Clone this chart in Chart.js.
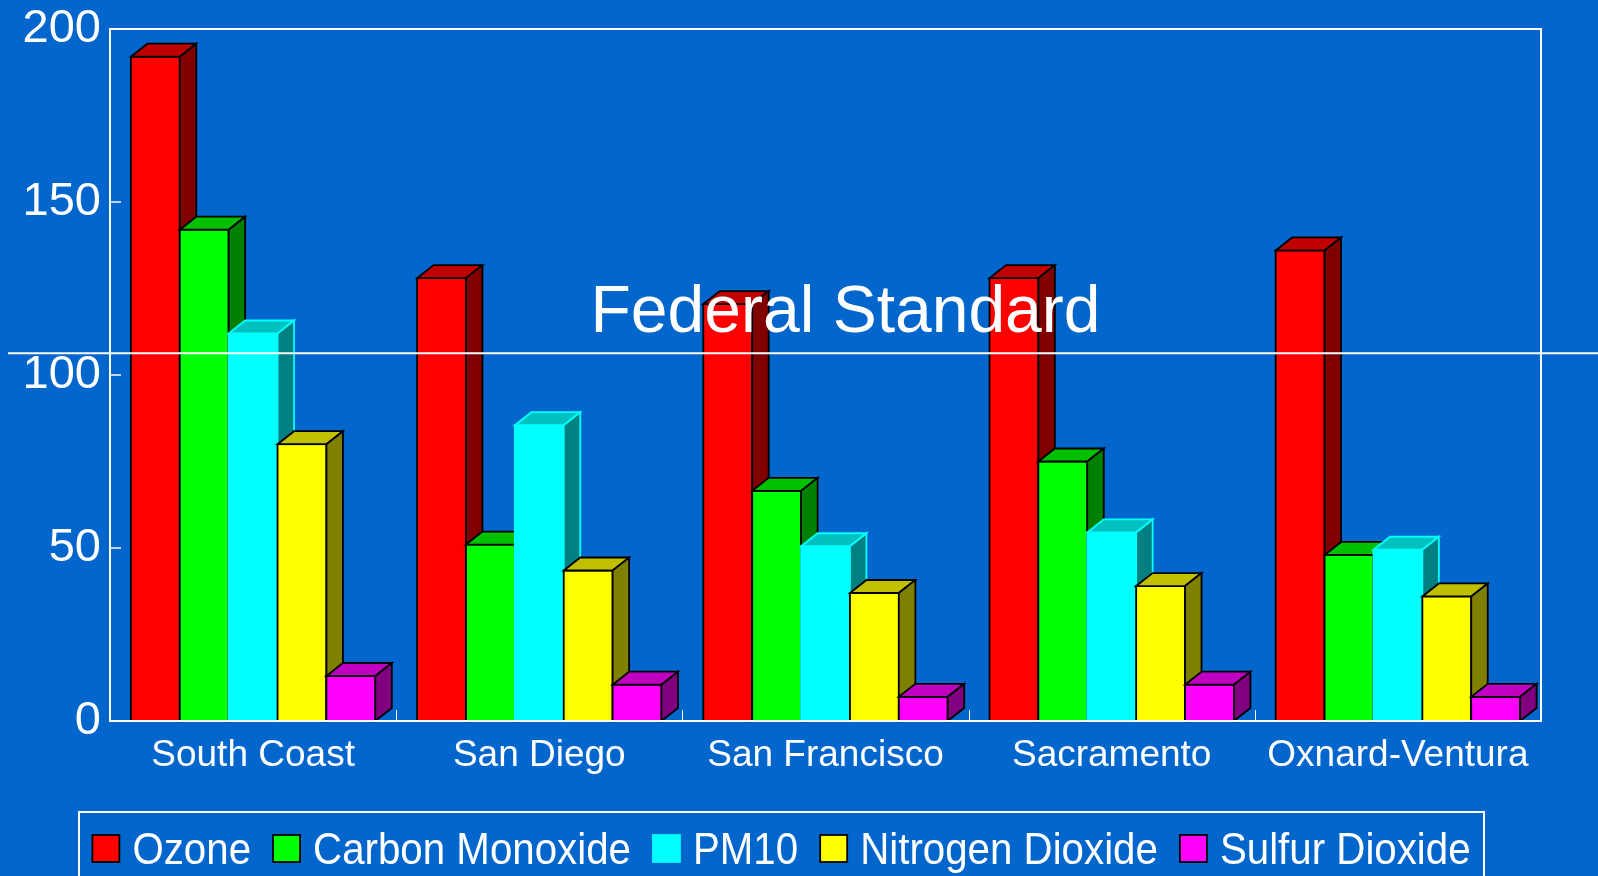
<!DOCTYPE html>
<html>
<head>
<meta charset="utf-8">
<title>Air Quality</title>
<script src="https://cdn.jsdelivr.net/npm/chart.js@4.4.0/dist/chart.umd.min.js"></script>
<style>
  html, body { margin: 0; padding: 0; background: #0366CC; }
  #chartWrapper { width: 1598px; height: 876px; position: relative; }
</style>
</head>
<body>
<div id="chartWrapper"><canvas id="airChart"></canvas></div>
<script>
const categories = ['South Coast', 'San Diego', 'San Francisco', 'Sacramento', 'Oxnard-Ventura'];
const ozone = [192, 128, 120.5, 128, 136];
const carbonMonoxide = [142, 51, 66.5, 75, 48];
const pm10 = [112, 85.5, 50.5, 54.5, 49.5];
const nitrogenDioxide = [80, 43.5, 37, 39, 36];
const sulfurDioxide = [13, 10.5, 7, 10.5, 7];
const seriesNames = ['Ozone', 'Carbon Monoxide', 'PM10', 'Nitrogen Dioxide', 'Sulfur Dioxide'];
const federalStandard = 106.3;
const federalLabel = 'Federal Standard';

const frontColors = ['#FF0000', '#00FF00', '#00FFFF', '#FFFF00', '#FF00FF'];
const topColors = ['#C00000', '#00C000', '#00C0C0', '#C0C000', '#C000C0'];
const sideColors = ['#800000', '#008000', '#008080', '#808000', '#800080'];
const edgeColors = ['#000000', '#000000', '#00FFFF', '#000000', '#000000'];

const FONT = '"Liberation Sans", Arial, sans-serif';
const DX = 16.5, DY = 13;

const seriesValues = [ozone, carbonMonoxide, pm10, nitrogenDioxide, sulfurDioxide];

function face(ctx, pts, fill) {
    ctx.beginPath();
    ctx.moveTo(pts[0][0], pts[0][1]);
    for (let k = 1; k < pts.length; k++) ctx.lineTo(pts[k][0], pts[k][1]);
    ctx.closePath();
    ctx.fillStyle = fill;
    ctx.fill();
    ctx.stroke();
}

// draws the bars again as boxes, group by group, left to right
const bars3d = {
    id: 'bars3d',
    afterDatasetsDraw(chart) {
        const ctx = chart.ctx;
        ctx.save();
        ctx.lineWidth = 1.8;
        for (let j = 0; j < categories.length; j++) {
            chart.data.datasets.forEach((ds, i) => {
                const el = chart.getDatasetMeta(i).data[j];
                const { x, y, base, width } = el.getProps(['x', 'y', 'base', 'width'], true);
                const l = x - width / 2, r = x + width / 2;
                ctx.strokeStyle = edgeColors[i];
                ctx.fillStyle = ds.backgroundColor;
                ctx.fillRect(l, y, width, base - y);
                ctx.strokeRect(l, y, width, base - y);
                face(ctx, [[l, y], [l + DX, y - DY], [r + DX, y - DY], [r, y]], topColors[i]);
                face(ctx, [[r, y], [r + DX, y - DY], [r + DX, base - DY], [r, base]], sideColors[i]);
            });
        }
        ctx.restore();
    }
};

const decorations = {
    id: 'decorations',
    afterDraw(chart) {
        const ctx = chart.ctx;
        const { left, right, top, bottom } = chart.chartArea;
        const yScale = chart.scales.y;
        const xScale = chart.scales.x;
        ctx.save();
        ctx.strokeStyle = '#FFFFFF';

        // frame
        ctx.lineWidth = 2;
        ctx.strokeRect(left, top, right - left, bottom - top);

        // inward ticks
        ctx.lineWidth = 1.5;
        yScale.ticks.forEach(t => {
            const py = yScale.getPixelForValue(t.value);
            ctx.beginPath();
            ctx.moveTo(left, py);
            ctx.lineTo(left + 11, py);
            ctx.stroke();
        });
        ctx.lineWidth = 1;
        for (let i = 1; i < categories.length; i++) {
            const px = Math.round((xScale.getPixelForValue(i - 1) + xScale.getPixelForValue(i)) / 2) + 0.5;
            ctx.beginPath();
            ctx.moveTo(px, bottom);
            ctx.lineTo(px, bottom - 11);
            ctx.stroke();
        }

        // federal standard
        const fy = yScale.getPixelForValue(federalStandard);
        ctx.lineWidth = 2;
        ctx.beginPath();
        ctx.moveTo(8, fy);
        ctx.lineTo(chart.width, fy);
        ctx.stroke();
        ctx.fillStyle = '#FFFFFF';
        ctx.font = '66px ' + FONT;
        ctx.textAlign = 'center';
        ctx.textBaseline = 'alphabetic';
        ctx.fillText(federalLabel, (left + right) / 2 + 20, fy - 21);

        // legend
        const boxL = 79, boxR = 1484, boxT = 812;
        ctx.lineWidth = 2;
        ctx.strokeRect(boxL, boxT, boxR - boxL, 100);
        ctx.font = '45px ' + FONT;
        ctx.textAlign = 'left';
        const sx = 0.895, sq = 27, gapIn = 13, gapOut = 22;
        const widths = chart.data.datasets.map(ds => ctx.measureText(ds.label).width * sx);
        const total = widths.reduce((a, b) => a + b, 0) + widths.length * (sq + gapIn) + (widths.length - 1) * gapOut;
        let cx = (boxL + boxR) / 2 - total / 2;
        chart.data.datasets.forEach((ds, i) => {
            ctx.fillStyle = ds.backgroundColor;
            ctx.fillRect(cx, 835, sq, sq);
            ctx.strokeStyle = edgeColors[i];
            ctx.lineWidth = 1.8;
            ctx.strokeRect(cx, 835, sq, sq);
            cx += sq + gapIn;
            ctx.save();
            ctx.translate(cx, 864);
            ctx.scale(sx, 1);
            ctx.fillStyle = '#FFFFFF';
            ctx.fillText(ds.label, 0, 0);
            ctx.restore();
            cx += widths[i] + gapOut;
        });
        ctx.restore();
    }
};

const ctx = document.getElementById('airChart').getContext('2d');
const chart = new Chart(ctx, {
    type: 'bar',
    data: {
        labels: categories,
        datasets: seriesNames.map((name, i) => ({
            label: name,
            data: seriesValues[i],
            backgroundColor: frontColors[i],
            borderWidth: 0,
            categoryPercentage: 0.854,
            barPercentage: 1
        }))
    },
    options: {
        responsive: true,
        maintainAspectRatio: false,
        animation: false,
        layout: { padding: { left: 0, top: 29, right: 57, bottom: 0 } },
        plugins: {
            legend: { display: false },
            tooltip: { enabled: false }
        },
        scales: {
            x: {
                grid: { display: false, drawTicks: false },
                border: { display: false },
                ticks: { color: '#FFFFFF', font: { family: FONT, size: 37 }, padding: 13, maxRotation: 0 },
                afterFit: scale => { scale.height = 155; }
            },
            y: {
                min: 0,
                max: 200,
                grid: { display: false, drawTicks: false },
                border: { display: false },
                ticks: { stepSize: 50, color: '#FFFFFF', font: { family: FONT, size: 47, lineHeight: 0.8 }, padding: 9 },
                afterFit: scale => { scale.width = 110; }
            }
        }
    },
    plugins: [bars3d, decorations]
});
</script>
</body>
</html>
